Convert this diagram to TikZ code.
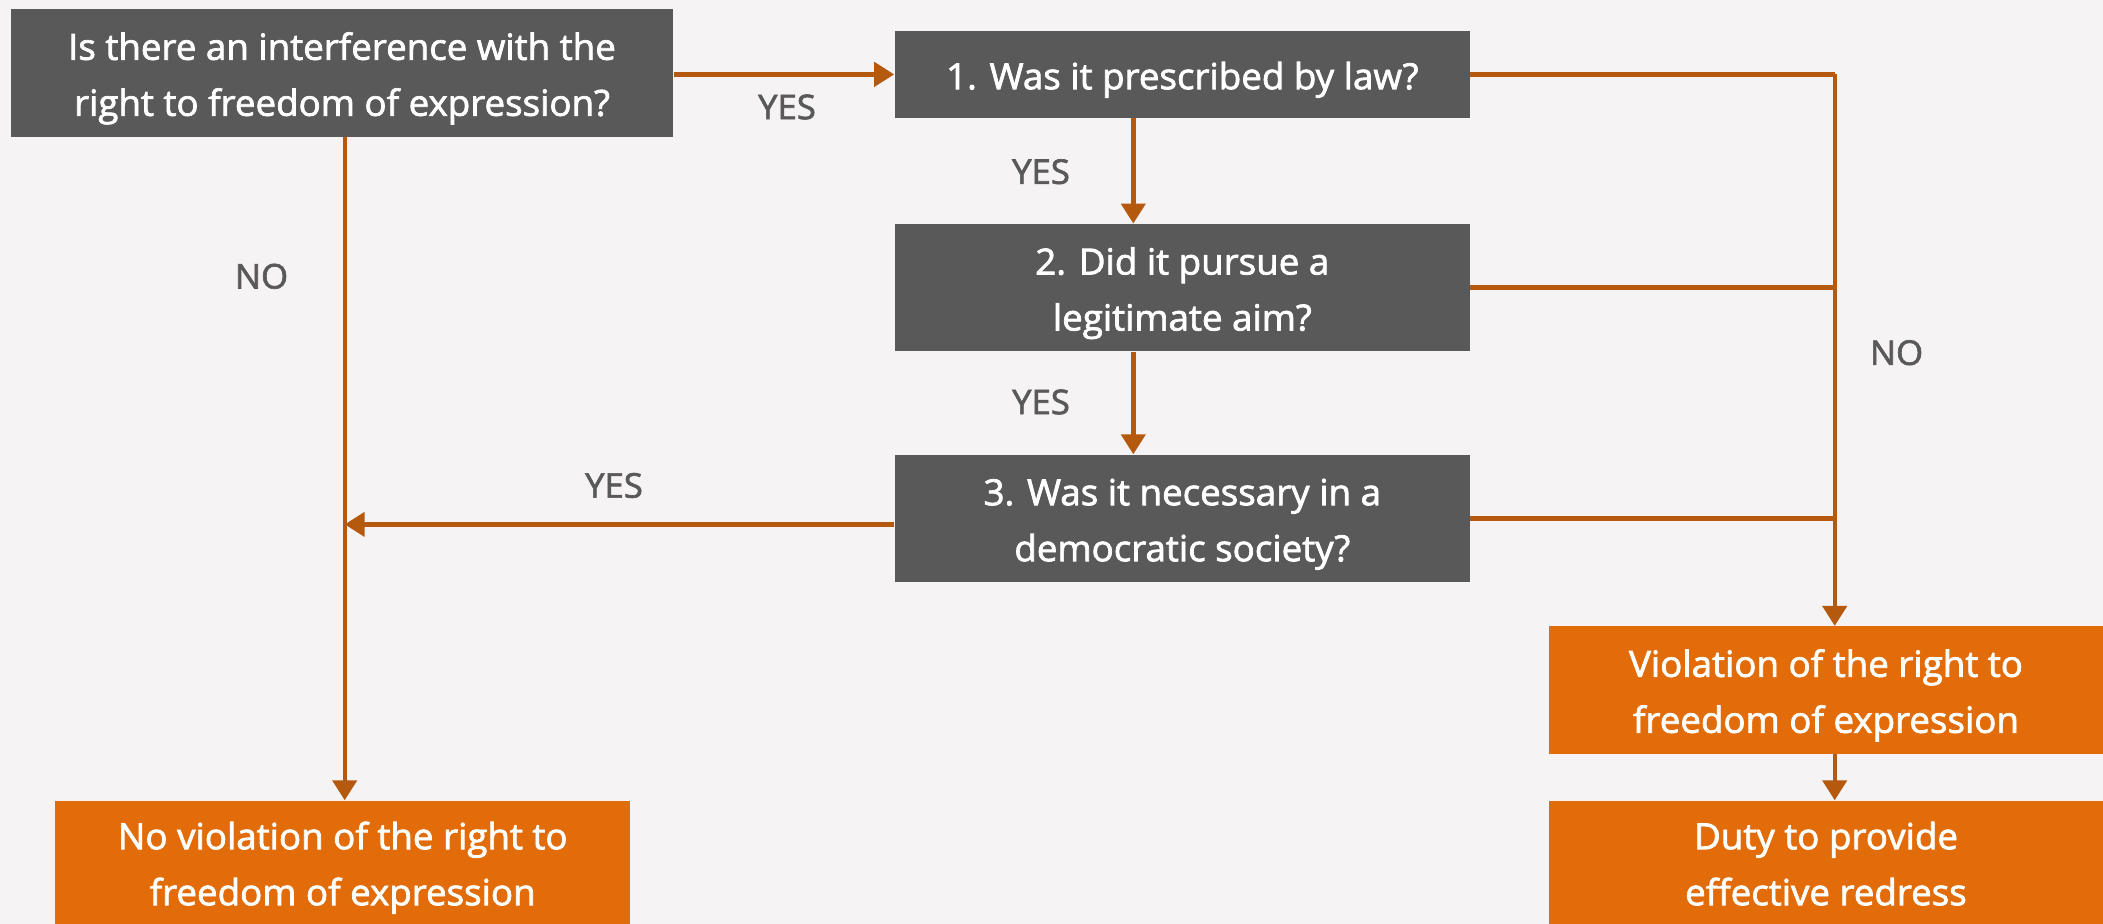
\documentclass[tikz,border=0pt]{standalone}
\usepackage{fontspec}
\setmainfont{Open Sans}[FakeStretch=1.02,FakeBold=2]
\usetikzlibrary{arrows.meta,calc}
\definecolor{bgc}{HTML}{F5F3F4}
\definecolor{darkbox}{HTML}{595959}
\definecolor{orangebox}{HTML}{E36C0A}
\definecolor{arrowc}{HTML}{B5590F}
\definecolor{labelc}{HTML}{595959}
\newcommand\boxtxt[1]{\raisebox{-1.8pt}[\height][\depth]{\begin{tabular}{@{}c@{}}#1\end{tabular}}}
\tikzset{
  box/.style={rectangle, inner sep=0pt, text=white,
    font=\fontsize{18}{28}\selectfont},
  darkq/.style={box, fill=darkbox},
  resbox/.style={box, fill=orangebox},
  conn/.style={draw=arrowc, line width=2.2pt},
  arr/.style={conn, -{Triangle[length=10pt,width=12pt]}},
  lbl/.style={text=labelc, font=\fontsize{17}{20}\selectfont, inner sep=0pt},
}
\begin{document}
\begin{tikzpicture}[x=0.5pt,y=-0.5pt]
\fill[bgc] (0,0) rectangle (2103,924);
\useasboundingbox (0,0) rectangle (2103,924);
\node[darkq, minimum width=331.3pt, minimum height=63.7pt] (q0) at (342,73) {\boxtxt{Is there an interference with the\\right to freedom of expression?}};
\node[darkq, minimum width=287.7pt, minimum height=43.6pt] (b1) at (1182.3,74.4) {\boxtxt{1. Was it prescribed by law?}};
\node[darkq, minimum width=287.7pt, minimum height=63.7pt] (b2) at (1182.3,287.7) {\boxtxt{2. Did it pursue a\\legitimate aim?}};
\node[darkq, minimum width=287.7pt, minimum height=63.7pt] (b3) at (1182.3,518.4) {\boxtxt{3. Was it necessary in a\\democratic society?}};
\node[resbox, minimum width=277pt, minimum height=63.7pt] (v) at (1826,690) {\boxtxt{Violation of the right to\\freedom of expression}};
\node[resbox, minimum width=277pt, minimum height=61.7pt] (d) at (1826,862.4) {\boxtxt{Duty to provide\\effective redress}};
\node[resbox, minimum width=287.7pt, minimum height=61.7pt] (n) at (342.7,862.4) {\boxtxt{No violation of the right to\\freedom of expression}};
\coordinate (rx) at (1834.7,0);
\coordinate (lx) at (344.7,0);
% YES path
\draw[arr] (q0.east |- b1.west) -- (b1.west);
\draw[arr] ([xshift=-24.5pt]b1.south) -- ([xshift=-24.5pt]b2.north);
\draw[arr] ([xshift=-24.5pt]b2.south) -- ([xshift=-24.5pt]b3.north);
\draw[arr] ([yshift=-3pt]b3.west) -- ([yshift=-3pt]b3.west -| lx);
\draw[arr] (lx |- q0.south) -- (lx |- n.north);
% NO path
\draw[conn] (b1.east) -- (b1.east -| rx);
\draw[conn] (b2.east) -- (b2.east -| rx);
\draw[conn] (b3.east) -- (b3.east -| rx);
\draw[arr] (rx |- b1.east) -- (rx |- v.north);
\draw[arr] (rx |- v.south) -- (rx |- d.north);
% labels
\node[lbl] (y0) at (787,107) {YES};
\node[lbl] (y1) at (1041,171.7) {YES};
\node[lbl] (y2) at (1041,402) {YES};
\node[lbl] (y3) at (614,485.5) {YES};
\node[lbl] (no1) at (261.5,276.3) {NO};
\node[lbl] (no2) at (1896.5,352.7) {NO};
\end{tikzpicture}
\end{document}
